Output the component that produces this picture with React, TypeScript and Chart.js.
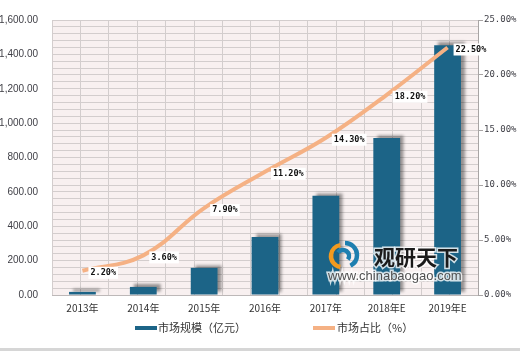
import React, { useEffect, useRef } from "react";
import { Chart, registerables } from "chart.js";

Chart.register(...registerables);

const categories = ["2013年", "2014年", "2015年", "2016年", "2017年", "2018年E", "2019年E"];
const marketSize = [18, 47, 158, 337, 577, 914, 1453];
const marketShare = [2.2, 3.6, 7.9, 11.2, 14.3, 18.2, 22.5];
const seriesNames = ["市场规模（亿元）", "市场占比（%）"];

const BAR_COLOR = "#1C6487";
const LINE_COLOR = "#F5B184";
const PLOT_BG = "#F8F0F0";
const GRID = "#D3CDCD";
const AXIS_TEXT = "#3F3F46";

const bgPlugin = {
  id: "plotBg",
  beforeDraw(chart: any) {
    const { ctx, chartArea } = chart;
    ctx.save();
    ctx.fillStyle = PLOT_BG;
    ctx.fillRect(chartArea.left, chartArea.top, chartArea.right - chartArea.left, chartArea.bottom - chartArea.top);
    ctx.restore();
  },
};

const shadowPlugin = {
  id: "barShadow",
  beforeDatasetDraw(chart: any, args: any) {
    if (args.meta.type !== "bar") return;
    const ctx = chart.ctx;
    ctx.save();
    ctx.shadowColor = "rgba(0,0,0,0.4)";
    ctx.shadowOffsetX = 4;
    ctx.shadowOffsetY = -3;
    ctx.shadowBlur = 3;
  },
  afterDatasetDraw(chart: any, args: any) {
    if (args.meta.type !== "bar") return;
    chart.ctx.restore();
  },
};

const labelPlugin = {
  id: "lineLabels",
  afterDatasetsDraw(chart: any) {
    const ctx = chart.ctx;
    const meta = chart.getDatasetMeta(1);
    ctx.save();
    ctx.font = "bold 8.5px 'DejaVu Sans Mono'";
    ctx.textBaseline = "middle";
    ctx.textAlign = "left";
    meta.data.forEach((pt: any, i: number) => {
      const txt = marketShare[i].toFixed(2) + "%";
      const w = ctx.measureText(txt).width;
      const x = pt.x + 6;
      const y = pt.y + 2;
      ctx.fillStyle = "#FFFFFF";
      ctx.fillRect(x, y - 6, w + 4, 12);
      ctx.fillStyle = "#111111";
      ctx.fillText(txt, x + 2, y);
    });
    ctx.restore();
  },
};

const legendAndMarkPlugin = {
  id: "legendMark",
  afterDraw(chart: any) {
    const ctx = chart.ctx;
    ctx.save();
    // watermark
    const wx = 327, wy = 243;
    ctx.lineWidth = 4.5;
    ctx.strokeStyle = "#F39A1E";
    ctx.beginPath();
    ctx.arc(wx + 15, wy + 13, 11, Math.PI * 0.55, Math.PI * 1.45);
    ctx.stroke();
    ctx.strokeStyle = "#1E7FB0";
    ctx.beginPath();
    ctx.arc(wx + 18, wy + 12, 12, Math.PI * 1.5, Math.PI * 0.35);
    ctx.stroke();
    ctx.beginPath();
    ctx.arc(wx + 16, wy + 13, 6, Math.PI * 1.2, Math.PI * 0.2);
    ctx.stroke();
    ctx.font = "bold 21px 'Noto Sans CJK SC'";
    ctx.textBaseline = "middle";
    ctx.textAlign = "left";
    ctx.lineWidth = 3;
    ctx.strokeStyle = "rgba(255,255,255,0.8)";
    ctx.strokeText("观研天下", 374, 257);
    ctx.fillStyle = "#1A1A1A";
    ctx.fillText("观研天下", 374, 257);
    ctx.font = "13px 'Liberation Sans'";
    ctx.strokeText("www.chinabaogao.com", 328, 276);
    ctx.fillStyle = "#505050";
    ctx.fillText("www.chinabaogao.com", 328, 276);

    // legend
    const ly = 328;
    ctx.font = "11px 'Noto Sans CJK SC'";
    ctx.fillStyle = BAR_COLOR;
    ctx.fillRect(135, ly - 2, 22, 4);
    ctx.fillStyle = "#333333";
    ctx.fillText(seriesNames[0], 158, ly);
    ctx.fillStyle = LINE_COLOR;
    ctx.fillRect(313, ly - 2, 22, 4);
    ctx.fillStyle = "#333333";
    ctx.fillText(seriesNames[1], 337, ly);
    ctx.restore();
  },
};

export default function App() {
  const ref = useRef<HTMLCanvasElement>(null);
  useEffect(() => {
    if (!ref.current) return;
    const chart = new Chart(ref.current, {
      type: "bar",
      data: {
        labels: categories,
        datasets: [
          {
            type: "bar",
            label: seriesNames[0],
            data: marketSize,
            backgroundColor: BAR_COLOR,
            yAxisID: "y",
            xAxisID: "x",
            categoryPercentage: 1,
            barPercentage: 0.44,
            order: 2,
          } as any,
          {
            type: "line",
            label: seriesNames[1],
            data: marketShare,
            borderColor: LINE_COLOR,
            backgroundColor: LINE_COLOR,
            borderWidth: 4,
            pointRadius: 0,
            tension: 0.4,
            yAxisID: "y1",
            xAxisID: "x",
            order: 1,
          } as any,
        ],
      },
      options: {
        responsive: false,
        animation: false,
        layout: { padding: { left: 0, right: 0, top: 14, bottom: 33 } },
        plugins: { legend: { display: false }, tooltip: { enabled: false } },
        scales: {
          x: {
            type: "category",
            position: "bottom",
            grid: { display: false, drawTicks: false },
            border: { display: true, color: "#BDB8B8", width: 1 },
            ticks: {
              color: "#333333",
              font: { family: "'Noto Sans CJK SC'", size: 10 },
              padding: 7,
              maxRotation: 0,
              autoSkip: false,
            },
            afterFit(scale: any) {
              scale.height = 20;
            },
          },
          xg: {
            type: "linear",
            position: "bottom",
            min: 0,
            max: 14,
            grid: { color: GRID, drawTicks: false },
            border: { display: false },
            ticks: { display: false, stepSize: 1, autoSkip: false },
            afterFit(scale: any) {
              scale.height = 0;
            },
          },
          y: {
            type: "linear",
            position: "left",
            min: 0,
            max: 1600,
            grid: { color: GRID, drawTicks: false },
            border: { display: false },
            ticks: {
              stepSize: 40,
              autoSkip: false,
              padding: 14,
              color: AXIS_TEXT,
              font: { family: "'Liberation Sans'", size: 10 },
              callback: (v: any) =>
                Number(v) % 200 === 0
                  ? Number(v).toLocaleString("en-US", { minimumFractionDigits: 2, maximumFractionDigits: 2 })
                  : "",
            },
            afterFit(scale: any) {
              scale.width = 52;
            },
          },
          y1: {
            type: "linear",
            position: "right",
            min: 0,
            max: 25,
            grid: { drawOnChartArea: false, drawTicks: true, tickLength: 5, color: "#A8A4A4" },
            border: { display: true, color: "#A8A4A4" },
            ticks: {
              stepSize: 5,
              padding: 1,
              color: AXIS_TEXT,
              font: { family: "'DejaVu Sans Mono'", size: 9 },
              callback: (v: any) => Number(v).toFixed(2) + "%",
            },
            afterFit(scale: any) {
              scale.width = 42;
            },
          },
        },
      } as any,
      plugins: [bgPlugin, shadowPlugin, labelPlugin, legendAndMarkPlugin],
    });
    return () => chart.destroy();
  }, []);

  return (
    <div style={{ position: "fixed", left: 0, top: 0, width: 520, height: 351, background: "#FFFFFF" }}>
      <canvas ref={ref} width={520} height={348} style={{ display: "block", width: 520, height: 348 }} />
      <div style={{ width: 520, height: 3, background: "#D6D6D6" }} />
    </div>
  );
}
